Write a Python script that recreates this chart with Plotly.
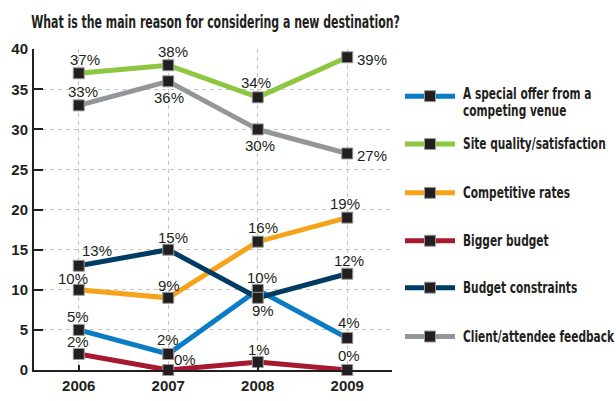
import plotly.graph_objects as go

# Survey results, share of respondents (%)
years = ["2006", "2007", "2008", "2009"]
special_offer = [5, 2, 10, 4]
site_quality = [37, 38, 34, 39]
competitive_rates = [10, 9, 16, 19]
bigger_budget = [2, 0, 1, 0]
budget_constraints = [13, 15, 9, 12]
client_feedback = [33, 36, 30, 27]

series_names = [
    ["A special offer from a", "competing venue"],
    ["Site quality/satisfaction"],
    ["Competitive rates"],
    ["Bigger budget"],
    ["Budget constraints"],
    ["Client/attendee feedback"],
]
series_values = [special_offer, site_quality, competitive_rates,
                 bigger_budget, budget_constraints, client_feedback]
series_colors = ["#0a7cc4", "#8dc63f", "#f7a21b", "#a6192e", "#003b64", "#939598"]

# per-point label offsets in pixels: (xshift, yshift, xanchor)
label_offsets = [
    [(-1, 13, "center"), (0, 14, "center"), (4, 12, "center"), (2, 15, "center")],
    [(6, 14, "center"), (5, 14, "center"), (-2, 15, "center"), (8, -2, "left")],
    [(-6, 11, "center"), (1, 12, "center"), (5, 14, "center"), (-2, 14, "center")],
    [(-1, 12, "center"), (17, 11, "center"), (1, 12, "center"), (2, 15, "center")],
    [(18, 15, "center"), (5, 12, "center"), (5, -13, "center"), (2, 13, "center")],
    [(4, 14, "center"), (1, -16, "center"), (2, -16, "center"), (8, -2, "left")],
]

W, H = 616, 401
INK = "#231f20"
GRID = "#c4c4c4"
NUM_FONT = "Liberation Sans, Arial, sans-serif"
COND_FONT = "DejaVu Sans Condensed, sans-serif"

fig = go.Figure()

# main series: lines first, then the square markers on top
for vals, col in zip(series_values, series_colors):
    fig.add_trace(go.Scatter(
        x=years, y=vals, mode="lines",
        line=dict(color=col, width=5),
        cliponaxis=False, hoverinfo="skip", showlegend=False,
    ))
for vals in series_values:
    fig.add_trace(go.Scatter(
        x=years, y=vals, mode="markers",
        marker=dict(symbol="square", size=11, color=INK,
                    line=dict(color="#9a9a9a", width=1)),
        cliponaxis=False, showlegend=False,
    ))

annotations = []
for vals, offs in zip(series_values, label_offsets):
    for i, (v, (dx, dy, xa)) in enumerate(zip(vals, offs)):
        annotations.append(dict(
            x=i, y=v, xref="x", yref="y", text=f"{v}%", showarrow=False,
            xshift=dx, yshift=dy, xanchor=xa, yanchor="middle",
            font=dict(family=NUM_FONT, size=15, color=INK),
        ))

# hand-built legend in pixel coordinates (full-page axes x2/y2)
legend_x0, legend_x1 = 405, 455
legend_rows = [91, 141, 192, 242, 291, 342]
legend_line_gap = 18
for lines, col, ry in zip(series_names, series_colors, legend_rows):
    fig.add_trace(go.Scatter(
        x=[legend_x0, legend_x1], y=[ry, ry], xaxis="x2", yaxis="y2",
        mode="lines", line=dict(color=col, width=5),
        hoverinfo="skip", showlegend=False,
    ))
    fig.add_trace(go.Scatter(
        x=[(legend_x0 + legend_x1) / 2], y=[ry], xaxis="x2", yaxis="y2",
        mode="markers",
        marker=dict(symbol="square", size=11, color=INK,
                    line=dict(color="#9a9a9a", width=1)),
        hoverinfo="skip", showlegend=False,
    ))
    top_y = ry - (len(lines) - 1) * 2
    for j, line in enumerate(lines):
        annotations.append(dict(
            x=461, y=top_y + j * legend_line_gap, xref="x2", yref="y2",
            text=line, showarrow=False,
            xanchor="left", yanchor="middle", align="left",
            font=dict(family=COND_FONT, size=15, color=INK, weight="bold"),
        ))

annotations.append(dict(
    x=29, y=14, xref="x2", yref="y2", showarrow=False,
    text="What is the main reason for considering a new destination?",
    xanchor="left", yanchor="middle",
    font=dict(family=COND_FONT, size=17, color=INK, weight="bold"),
))

left, right, top, bottom = 34, 392, 42, 377
fig.update_layout(
    width=W, height=H,
    margin=dict(l=0, r=0, t=0, b=0),
    paper_bgcolor="white", plot_bgcolor="rgba(0,0,0,0)",
    showlegend=False,
    annotations=annotations,
    xaxis=dict(
        type="category", anchor="y",
        domain=[left / W, right / W], range=[-0.5, 3.5],
        showline=True, linecolor=INK, linewidth=2,
        showgrid=True, gridcolor=GRID, griddash="4px,4px", gridwidth=1,
        ticks="inside", ticklen=5, tickwidth=2, tickcolor=INK,
        ticklabelstandoff=1,
        tickfont=dict(family=NUM_FONT, size=15, color=INK, weight="bold"),
        zeroline=False, fixedrange=True,
    ),
    yaxis=dict(
        anchor="x",
        domain=[(H - bottom) / H, (H - top) / H], range=[0, 40],
        tickvals=[0, 5, 10, 15, 20, 25, 30, 35, 40],
        showline=True, linecolor=INK, linewidth=2,
        showgrid=True, gridcolor=GRID, griddash="4px,4px", gridwidth=1,
        ticks="inside", ticklen=9, tickwidth=2, tickcolor=INK,
        ticklabelstandoff=1,
        tickfont=dict(family=NUM_FONT, size=15, color=INK, weight="bold"),
        zeroline=False, fixedrange=True,
    ),
    xaxis2=dict(domain=[0, 1], range=[0, W], visible=False,
                anchor="y2", fixedrange=True),
    yaxis2=dict(domain=[0, 1], range=[H, 0], visible=False,
                anchor="x2", fixedrange=True),
)

# Narrow the condensed-face texts (title and legend) horizontally, keeping
# each one's left edge fixed, so they read like a compressed gothic face.
narrow_js = """
var gd = document.getElementById('{plot_id}');
var targets = {title: 369, legend: 152};
var texts = gd.querySelectorAll('g.annotation text.annotation-text');
var title = null, legend = [], ref = null;
texts.forEach(function (t) {
  var fam = (t.style.fontFamily || '');
  if (fam.indexOf('Condensed') < 0) { return; }
  var s = t.textContent;
  if (s.indexOf('What is') === 0) { title = t; }
  else { legend.push(t); if (s.indexOf('Client') === 0) { ref = t; } }
});
function squeeze(t, k) {
  var b = t.getBBox();
  var x0 = b.x;
  var old = t.getAttribute('transform') || '';
  t.setAttribute('transform', old + ' translate(' + x0 + ',0) scale(' + k + ',1) translate(' + (-x0) + ',0)');
}
if (title) { squeeze(title, targets.title / title.getBBox().width); }
if (ref) {
  var k = targets.legend / ref.getBBox().width;
  legend.forEach(function (t) { squeeze(t, k); });
}
"""

fig.write_html("out.html", post_script=narrow_js)
